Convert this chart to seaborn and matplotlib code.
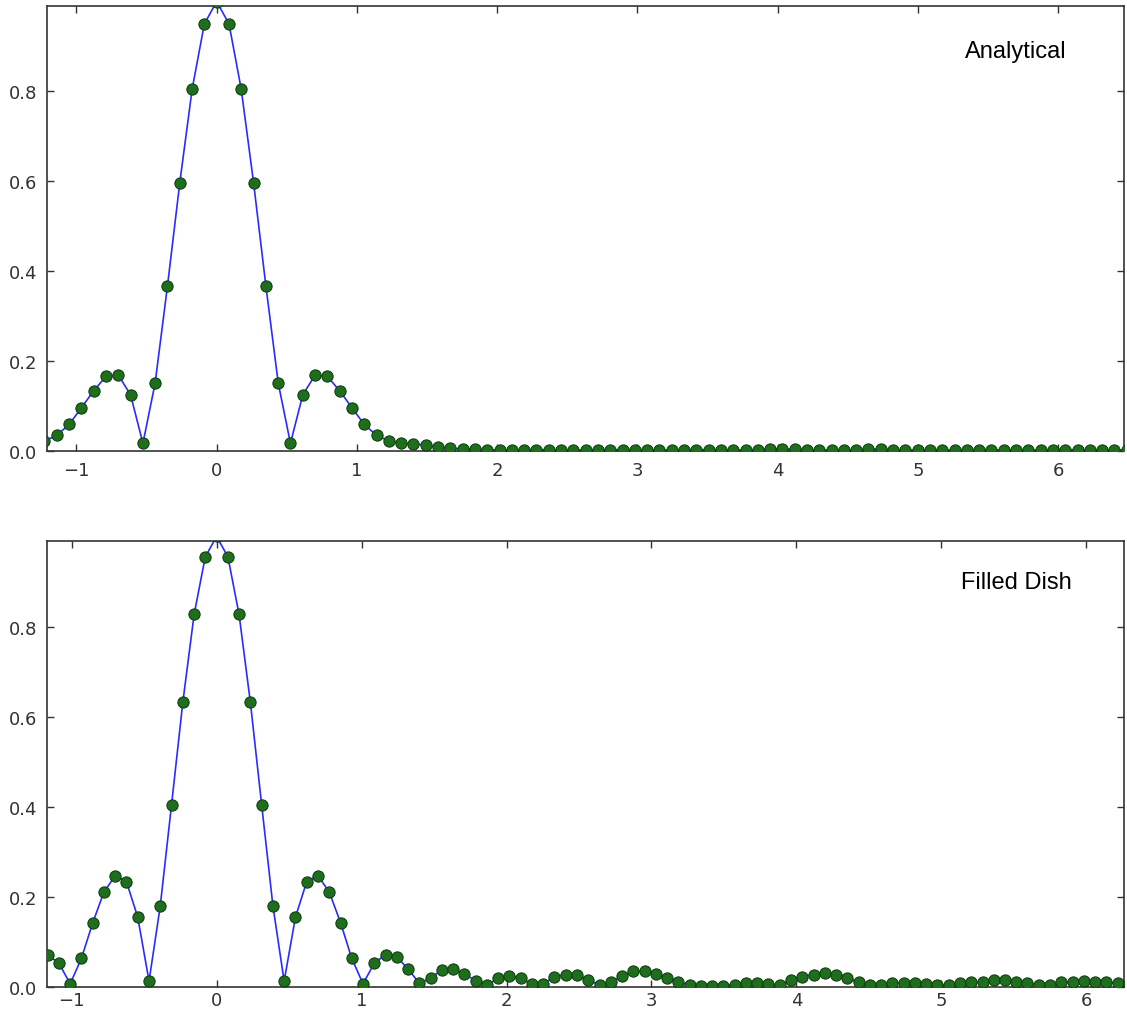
import numpy as np
import matplotlib
matplotlib.use('Agg')
import matplotlib.pyplot as plt
import seaborn as sns


# sample positions and values
top_x = [-1.228, -1.140, -1.052, -0.965, -0.877, -0.789, -0.702, -0.614, -0.526, -0.439,
         -0.351, -0.263, -0.175, -0.088, 0.000, 0.088, 0.175, 0.263, 0.351, 0.439,
         0.526, 0.614, 0.702, 0.789, 0.877, 0.965, 1.052, 1.140, 1.228, 1.316,
         1.403, 1.491, 1.579, 1.666, 1.754, 1.842, 1.929, 2.017, 2.105, 2.193,
         2.280, 2.368, 2.456, 2.543, 2.631, 2.719, 2.806, 2.894, 2.982, 3.070,
         3.157, 3.245, 3.333, 3.420, 3.508, 3.596, 3.683, 3.771, 3.859, 3.947,
         4.034, 4.122, 4.210, 4.297, 4.385, 4.473, 4.560, 4.648, 4.736, 4.824,
         4.911, 4.999, 5.087, 5.174, 5.262, 5.350, 5.437, 5.525, 5.613, 5.701,
         5.788, 5.876, 5.964, 6.051, 6.139, 6.227, 6.314, 6.402, 6.490]
top_y = [0.022, 0.035, 0.059, 0.096, 0.134, 0.166, 0.169, 0.125, 0.017, 0.151,
         0.367, 0.597, 0.805, 0.950, 1.000, 0.950, 0.805, 0.597, 0.367, 0.151,
         0.017, 0.125, 0.169, 0.166, 0.134, 0.096, 0.059, 0.035, 0.022, 0.017,
         0.016, 0.013, 0.008, 0.006, 0.005, 0.004, 0.003, 0.002, 0.002, 0.003,
         0.003, 0.003, 0.002, 0.002, 0.002, 0.003, 0.003, 0.003, 0.003, 0.002,
         0.002, 0.002, 0.003, 0.003, 0.003, 0.003, 0.002, 0.002, 0.003, 0.004,
         0.004, 0.004, 0.003, 0.002, 0.002, 0.002, 0.003, 0.004, 0.004, 0.003,
         0.002, 0.002, 0.002, 0.002, 0.002, 0.003, 0.003, 0.003, 0.002, 0.002,
         0.002, 0.002, 0.003, 0.003, 0.003, 0.002, 0.002, 0.002, 0.002]

bottom_x = [-1.166, -1.088, -1.010, -0.932, -0.855, -0.777, -0.699, -0.622, -0.544, -0.466,
            -0.389, -0.311, -0.233, -0.155, -0.078, 0.000, 0.078, 0.155, 0.233, 0.311,
            0.389, 0.466, 0.544, 0.622, 0.699, 0.777, 0.855, 0.932, 1.010, 1.088,
            1.166, 1.243, 1.321, 1.399, 1.476, 1.554, 1.632, 1.709, 1.787, 1.865,
            1.943, 2.020, 2.098, 2.176, 2.253, 2.331, 2.409, 2.486, 2.564, 2.642,
            2.720, 2.797, 2.875, 2.953, 3.030, 3.108, 3.186, 3.263, 3.341, 3.419,
            3.497, 3.574, 3.652, 3.730, 3.807, 3.885, 3.963, 4.040, 4.118, 4.196,
            4.274, 4.351, 4.429, 4.507, 4.584, 4.662, 4.740, 4.817, 4.895, 4.973,
            5.051, 5.128, 5.206, 5.284, 5.361, 5.439, 5.517, 5.594, 5.672, 5.750,
            5.828, 5.905, 5.983, 6.061, 6.138, 6.216, 6.294]
bottom_y = [0.071, 0.053, 0.007, 0.064, 0.142, 0.211, 0.247, 0.234, 0.155, 0.013,
            0.179, 0.404, 0.632, 0.827, 0.955, 1.000, 0.955, 0.827, 0.632, 0.404,
            0.179, 0.013, 0.155, 0.234, 0.247, 0.211, 0.143, 0.064, 0.007, 0.053,
            0.072, 0.067, 0.040, 0.008, 0.020, 0.038, 0.041, 0.029, 0.014, 0.004,
            0.020, 0.025, 0.019, 0.007, 0.007, 0.023, 0.027, 0.027, 0.016, 0.004,
            0.010, 0.024, 0.035, 0.035, 0.029, 0.021, 0.011, 0.004, 0.003, 0.003,
            0.003, 0.005, 0.009, 0.009, 0.007, 0.004, 0.016, 0.023, 0.027, 0.030,
            0.027, 0.020, 0.010, 0.004, 0.005, 0.009, 0.009, 0.009, 0.007, 0.004,
            0.004, 0.008, 0.010, 0.012, 0.015, 0.015, 0.012, 0.009, 0.004, 0.004,
            0.010, 0.011, 0.014, 0.012, 0.010, 0.008, 0.006]

labels = ['Analytical', 'Filled Dish']
xticks = [-1, 0, 1, 2, 3, 4, 5, 6]
yticks = [0.0, 0.2, 0.4, 0.6, 0.8]


sns.set_style('ticks')
plt.rcParams['font.family'] = ['DejaVu Sans']

W, H = 1127, 1012
fig = plt.figure(figsize=(W / 100, H / 100), dpi=100)
ax1 = fig.add_axes([47 / W, 1 - 452 / H, (1124 - 47) / W, (452 - 7) / H])
ax2 = fig.add_axes([47 / W, 1 - 988 / H, (1124 - 47) / W, (988 - 542) / H])

panels = [(ax1, top_x, top_y, (-1.21, 6.47), 7),
          (ax2, bottom_x, bottom_y, (-1.17, 6.26), 3)]

for ax, xs, ys, xlim, xpad in panels:
    sns.lineplot(x=xs, y=ys, ax=ax, color='#2b2bff', linewidth=1.2,
                 estimator=None, sort=False)
    sns.scatterplot(x=xs, y=ys, ax=ax, color='#1e6e1e', edgecolor='#0c3a0c',
                    linewidth=0.7, s=66, zorder=3)
    ax.set_xlim(*xlim)
    ax.set_ylim(0, 0.99)
    ax.set_xticks(xticks)
    ax.set_yticks(yticks)
    ax.set_yticklabels(['%.1f' % t for t in yticks])
    ax.tick_params(direction='in', length=5, width=1, top=True, right=True,
                   labelsize=13, pad=7, colors='#333333')
    ax.tick_params(axis='x', pad=xpad)
    for sp in ax.spines.values():
        sp.set_visible(True)
        sp.set_color('#333333')
        sp.set_linewidth(1.2)

fig.text(1016 / W, 1 - 52 / H, labels[0], ha='center', va='center',
         fontsize=17, family='Liberation Sans', color='black')
fig.text(1016 / W, 1 - 583 / H, labels[1], ha='center', va='center',
         fontsize=17, family='Liberation Sans', color='black')

plt.savefig('out.png', dpi=100)
